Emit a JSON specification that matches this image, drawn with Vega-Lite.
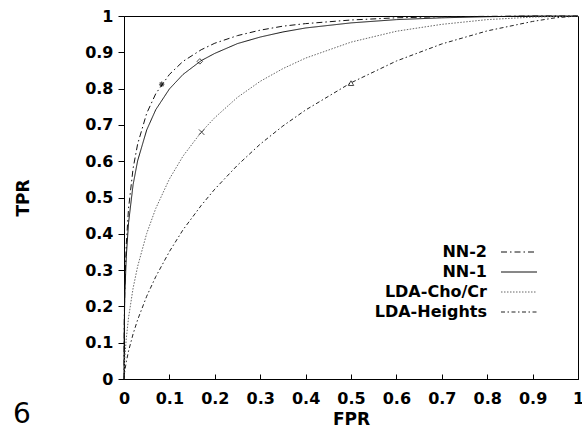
{
  "$schema": "https://vega.github.io/schema/vega-lite/v6.json",
  "width": 454,
  "height": 363,
  "autosize": {"type": "none"},
  "padding": {"left": 124, "top": 16, "right": 4, "bottom": 49},
  "config": {
    "view": {"stroke": "black", "strokeWidth": 1},
    "font": "DejaVu Sans",
    "axis": {
      "grid": false,
      "domainColor": "black",
      "tickColor": "black",
      "labelColor": "black",
      "titleColor": "black",
      "labelFont": "DejaVu Sans",
      "titleFont": "DejaVu Sans",
      "labelFontSize": 16,
      "labelFontWeight": "bold",
      "titleFontSize": 17,
      "titleFontWeight": "bold",
      "labelFlush": false,
      "labelOverlap": false
    },
    "axisX": {
      "values": [0, 0.1, 0.2, 0.3, 0.4, 0.5, 0.6, 0.7, 0.8, 0.9, 1],
      "format": "~g",
      "tickSize": -5,
      "labelPadding": 16,
      "titlePadding": 5
    },
    "axisY": {
      "values": [0, 0.1, 0.2, 0.3, 0.4, 0.5, 0.6, 0.7, 0.8, 0.9, 1],
      "format": "~g",
      "tickSize": 6,
      "labelPadding": 5,
      "titlePadding": 52
    }
  },
  "datasets": {
    "curves": [
      {"s": "NN-2", "fpr": 0, "tpr": 0},
      {"s": "NN-2", "fpr": 0.0001, "tpr": 0.067},
      {"s": "NN-2", "fpr": 0.0005, "tpr": 0.145},
      {"s": "NN-2", "fpr": 0.001, "tpr": 0.196},
      {"s": "NN-2", "fpr": 0.002, "tpr": 0.261},
      {"s": "NN-2", "fpr": 0.005, "tpr": 0.37},
      {"s": "NN-2", "fpr": 0.01, "tpr": 0.47},
      {"s": "NN-2", "fpr": 0.02, "tpr": 0.58},
      {"s": "NN-2", "fpr": 0.03, "tpr": 0.647},
      {"s": "NN-2", "fpr": 0.05, "tpr": 0.732},
      {"s": "NN-2", "fpr": 0.07, "tpr": 0.786},
      {"s": "NN-2", "fpr": 0.1, "tpr": 0.839},
      {"s": "NN-2", "fpr": 0.13, "tpr": 0.875},
      {"s": "NN-2", "fpr": 0.17, "tpr": 0.907},
      {"s": "NN-2", "fpr": 0.2, "tpr": 0.925},
      {"s": "NN-2", "fpr": 0.25, "tpr": 0.946},
      {"s": "NN-2", "fpr": 0.3, "tpr": 0.961},
      {"s": "NN-2", "fpr": 0.35, "tpr": 0.972},
      {"s": "NN-2", "fpr": 0.4, "tpr": 0.979},
      {"s": "NN-2", "fpr": 0.5, "tpr": 0.989},
      {"s": "NN-2", "fpr": 0.6, "tpr": 0.995},
      {"s": "NN-2", "fpr": 0.7, "tpr": 0.998},
      {"s": "NN-2", "fpr": 0.8, "tpr": 0.999},
      {"s": "NN-2", "fpr": 0.9, "tpr": 1},
      {"s": "NN-2", "fpr": 1, "tpr": 1},
      {"s": "NN-1", "fpr": 0, "tpr": 0},
      {"s": "NN-1", "fpr": 0.0001, "tpr": 0.063},
      {"s": "NN-1", "fpr": 0.0005, "tpr": 0.132},
      {"s": "NN-1", "fpr": 0.001, "tpr": 0.179},
      {"s": "NN-1", "fpr": 0.002, "tpr": 0.238},
      {"s": "NN-1", "fpr": 0.005, "tpr": 0.337},
      {"s": "NN-1", "fpr": 0.01, "tpr": 0.43},
      {"s": "NN-1", "fpr": 0.02, "tpr": 0.535},
      {"s": "NN-1", "fpr": 0.03, "tpr": 0.601},
      {"s": "NN-1", "fpr": 0.05, "tpr": 0.686},
      {"s": "NN-1", "fpr": 0.07, "tpr": 0.742},
      {"s": "NN-1", "fpr": 0.1, "tpr": 0.799},
      {"s": "NN-1", "fpr": 0.13, "tpr": 0.839},
      {"s": "NN-1", "fpr": 0.17, "tpr": 0.877},
      {"s": "NN-1", "fpr": 0.2, "tpr": 0.897},
      {"s": "NN-1", "fpr": 0.25, "tpr": 0.924},
      {"s": "NN-1", "fpr": 0.3, "tpr": 0.942},
      {"s": "NN-1", "fpr": 0.35, "tpr": 0.956},
      {"s": "NN-1", "fpr": 0.4, "tpr": 0.967},
      {"s": "NN-1", "fpr": 0.5, "tpr": 0.981},
      {"s": "NN-1", "fpr": 0.6, "tpr": 0.99},
      {"s": "NN-1", "fpr": 0.7, "tpr": 0.995},
      {"s": "NN-1", "fpr": 0.8, "tpr": 0.998},
      {"s": "NN-1", "fpr": 0.9, "tpr": 1},
      {"s": "NN-1", "fpr": 1, "tpr": 1},
      {"s": "LDA-Cho/Cr", "fpr": 0, "tpr": 0},
      {"s": "LDA-Cho/Cr", "fpr": 0.0005, "tpr": 0.025},
      {"s": "LDA-Cho/Cr", "fpr": 0.001, "tpr": 0.04},
      {"s": "LDA-Cho/Cr", "fpr": 0.002, "tpr": 0.063},
      {"s": "LDA-Cho/Cr", "fpr": 0.005, "tpr": 0.111},
      {"s": "LDA-Cho/Cr", "fpr": 0.01, "tpr": 0.169},
      {"s": "LDA-Cho/Cr", "fpr": 0.02, "tpr": 0.25},
      {"s": "LDA-Cho/Cr", "fpr": 0.03, "tpr": 0.31},
      {"s": "LDA-Cho/Cr", "fpr": 0.05, "tpr": 0.401},
      {"s": "LDA-Cho/Cr", "fpr": 0.07, "tpr": 0.47},
      {"s": "LDA-Cho/Cr", "fpr": 0.1, "tpr": 0.551},
      {"s": "LDA-Cho/Cr", "fpr": 0.13, "tpr": 0.614},
      {"s": "LDA-Cho/Cr", "fpr": 0.17, "tpr": 0.68},
      {"s": "LDA-Cho/Cr", "fpr": 0.2, "tpr": 0.72},
      {"s": "LDA-Cho/Cr", "fpr": 0.25, "tpr": 0.776},
      {"s": "LDA-Cho/Cr", "fpr": 0.3, "tpr": 0.82},
      {"s": "LDA-Cho/Cr", "fpr": 0.35, "tpr": 0.855},
      {"s": "LDA-Cho/Cr", "fpr": 0.4, "tpr": 0.884},
      {"s": "LDA-Cho/Cr", "fpr": 0.5, "tpr": 0.928},
      {"s": "LDA-Cho/Cr", "fpr": 0.6, "tpr": 0.958},
      {"s": "LDA-Cho/Cr", "fpr": 0.7, "tpr": 0.977},
      {"s": "LDA-Cho/Cr", "fpr": 0.8, "tpr": 0.99},
      {"s": "LDA-Cho/Cr", "fpr": 0.9, "tpr": 0.997},
      {"s": "LDA-Cho/Cr", "fpr": 1, "tpr": 1},
      {"s": "LDA-Heights", "fpr": 0, "tpr": 0},
      {"s": "LDA-Heights", "fpr": 0.001, "tpr": 0.014},
      {"s": "LDA-Heights", "fpr": 0.002, "tpr": 0.024},
      {"s": "LDA-Heights", "fpr": 0.005, "tpr": 0.047},
      {"s": "LDA-Heights", "fpr": 0.01, "tpr": 0.077},
      {"s": "LDA-Heights", "fpr": 0.02, "tpr": 0.124},
      {"s": "LDA-Heights", "fpr": 0.03, "tpr": 0.163},
      {"s": "LDA-Heights", "fpr": 0.05, "tpr": 0.228},
      {"s": "LDA-Heights", "fpr": 0.07, "tpr": 0.282},
      {"s": "LDA-Heights", "fpr": 0.1, "tpr": 0.351},
      {"s": "LDA-Heights", "fpr": 0.13, "tpr": 0.411},
      {"s": "LDA-Heights", "fpr": 0.17, "tpr": 0.478},
      {"s": "LDA-Heights", "fpr": 0.2, "tpr": 0.523},
      {"s": "LDA-Heights", "fpr": 0.25, "tpr": 0.589},
      {"s": "LDA-Heights", "fpr": 0.3, "tpr": 0.647},
      {"s": "LDA-Heights", "fpr": 0.35, "tpr": 0.697},
      {"s": "LDA-Heights", "fpr": 0.4, "tpr": 0.741},
      {"s": "LDA-Heights", "fpr": 0.5, "tpr": 0.816},
      {"s": "LDA-Heights", "fpr": 0.6, "tpr": 0.876},
      {"s": "LDA-Heights", "fpr": 0.7, "tpr": 0.923},
      {"s": "LDA-Heights", "fpr": 0.8, "tpr": 0.959},
      {"s": "LDA-Heights", "fpr": 0.9, "tpr": 0.985},
      {"s": "LDA-Heights", "fpr": 0.95, "tpr": 0.995},
      {"s": "LDA-Heights", "fpr": 1, "tpr": 1}
    ],
    "markers": [
      {"m": "NN-2", "fpr": 0.083, "tpr": 0.812},
      {"m": "NN-1", "fpr": 0.167, "tpr": 0.875},
      {"m": "LDA-Cho/Cr", "fpr": 0.171, "tpr": 0.68},
      {"m": "LDA-Heights", "fpr": 0.5, "tpr": 0.815}
    ]
  },
  "layer": [
    {
      "data": {"name": "curves"},
      "mark": {"type": "line", "strokeWidth": 1},
      "encoding": {
        "x": {"field": "fpr", "type": "quantitative", "scale": {"domain": [0, 1], "nice": false}, "title": "FPR"},
        "y": {"field": "tpr", "type": "quantitative", "scale": {"domain": [0, 1], "nice": false}, "title": "TPR"},
        "color": {
          "field": "s", "type": "nominal",
          "scale": {"domain": ["NN-2", "NN-1", "LDA-Cho/Cr", "LDA-Heights"], "range": ["#111111", "#111111", "#666666", "#222222"]},
          "legend": {
            "title": null, "orient": "none", "legendX": 387, "legendY": 228,
            "symbolType": "M-3,0L3,0", "symbolSize": 144, "symbolStrokeWidth": 1,
            "labelAlign": "right", "labelOffset": -40, "labelFont": "DejaVu Sans",
            "labelFontSize": 16, "labelFontWeight": "bold", "labelColor": "black", "rowPadding": 4, "labelLimit": 300
          }
        },
        "strokeDash": {
          "field": "s", "type": "nominal",
          "scale": {"domain": ["NN-2", "NN-1", "LDA-Cho/Cr", "LDA-Heights"], "range": [[6, 3, 1.5, 3], [1, 0], [1.5, 1.5], [4, 2.5, 1.5, 2.5]]},
          "legend": {
            "title": null, "orient": "none", "legendX": 387, "legendY": 228,
            "symbolType": "M-3,0L3,0", "symbolSize": 144, "symbolStrokeWidth": 1,
            "labelAlign": "right", "labelOffset": -40, "labelFont": "DejaVu Sans",
            "labelFontSize": 16, "labelFontWeight": "bold", "labelColor": "black", "rowPadding": 4, "labelLimit": 300
          }
        }
      }
    },
    {
      "data": {"name": "markers"},
      "transform": [{"filter": "datum.m === 'NN-2'"}],
      "mark": {"type": "point", "filled": false, "stroke": "black", "strokeWidth": 1.2, "size": 30, "shape": "M-1,0L1,0M0,-1L0,1M-0.7,-0.7L0.7,0.7M-0.7,0.7L0.7,-0.7"},
      "encoding": {
        "x": {"field": "fpr", "type": "quantitative"},
        "y": {"field": "tpr", "type": "quantitative"}
      }
    },
    {
      "data": {"name": "markers"},
      "transform": [{"filter": "datum.m === 'NN-1'"}],
      "mark": {"type": "point", "filled": false, "stroke": "black", "strokeWidth": 1, "size": 30, "shape": "diamond"},
      "encoding": {
        "x": {"field": "fpr", "type": "quantitative"},
        "y": {"field": "tpr", "type": "quantitative"}
      }
    },
    {
      "data": {"name": "markers"},
      "transform": [{"filter": "datum.m === 'LDA-Cho/Cr'"}],
      "mark": {"type": "point", "filled": false, "stroke": "black", "strokeWidth": 1, "size": 30, "shape": "M-1,-1L1,1M-1,1L1,-1"},
      "encoding": {
        "x": {"field": "fpr", "type": "quantitative"},
        "y": {"field": "tpr", "type": "quantitative"}
      }
    },
    {
      "data": {"name": "markers"},
      "transform": [{"filter": "datum.m === 'LDA-Heights'"}],
      "mark": {"type": "point", "filled": false, "stroke": "black", "strokeWidth": 1, "size": 30, "shape": "triangle-up"},
      "encoding": {
        "x": {"field": "fpr", "type": "quantitative"},
        "y": {"field": "tpr", "type": "quantitative"}
      }
    },
    {
      "data": {"values": [{}]},
      "mark": {"type": "text", "fontSize": 28, "font": "DejaVu Sans", "color": "black", "align": "center", "baseline": "middle"},
      "encoding": {
        "x": {"datum": -0.225, "type": "quantitative"},
        "y": {"datum": -0.1, "type": "quantitative"},
        "text": {"value": "6"}
      }
    }
  ]
}
